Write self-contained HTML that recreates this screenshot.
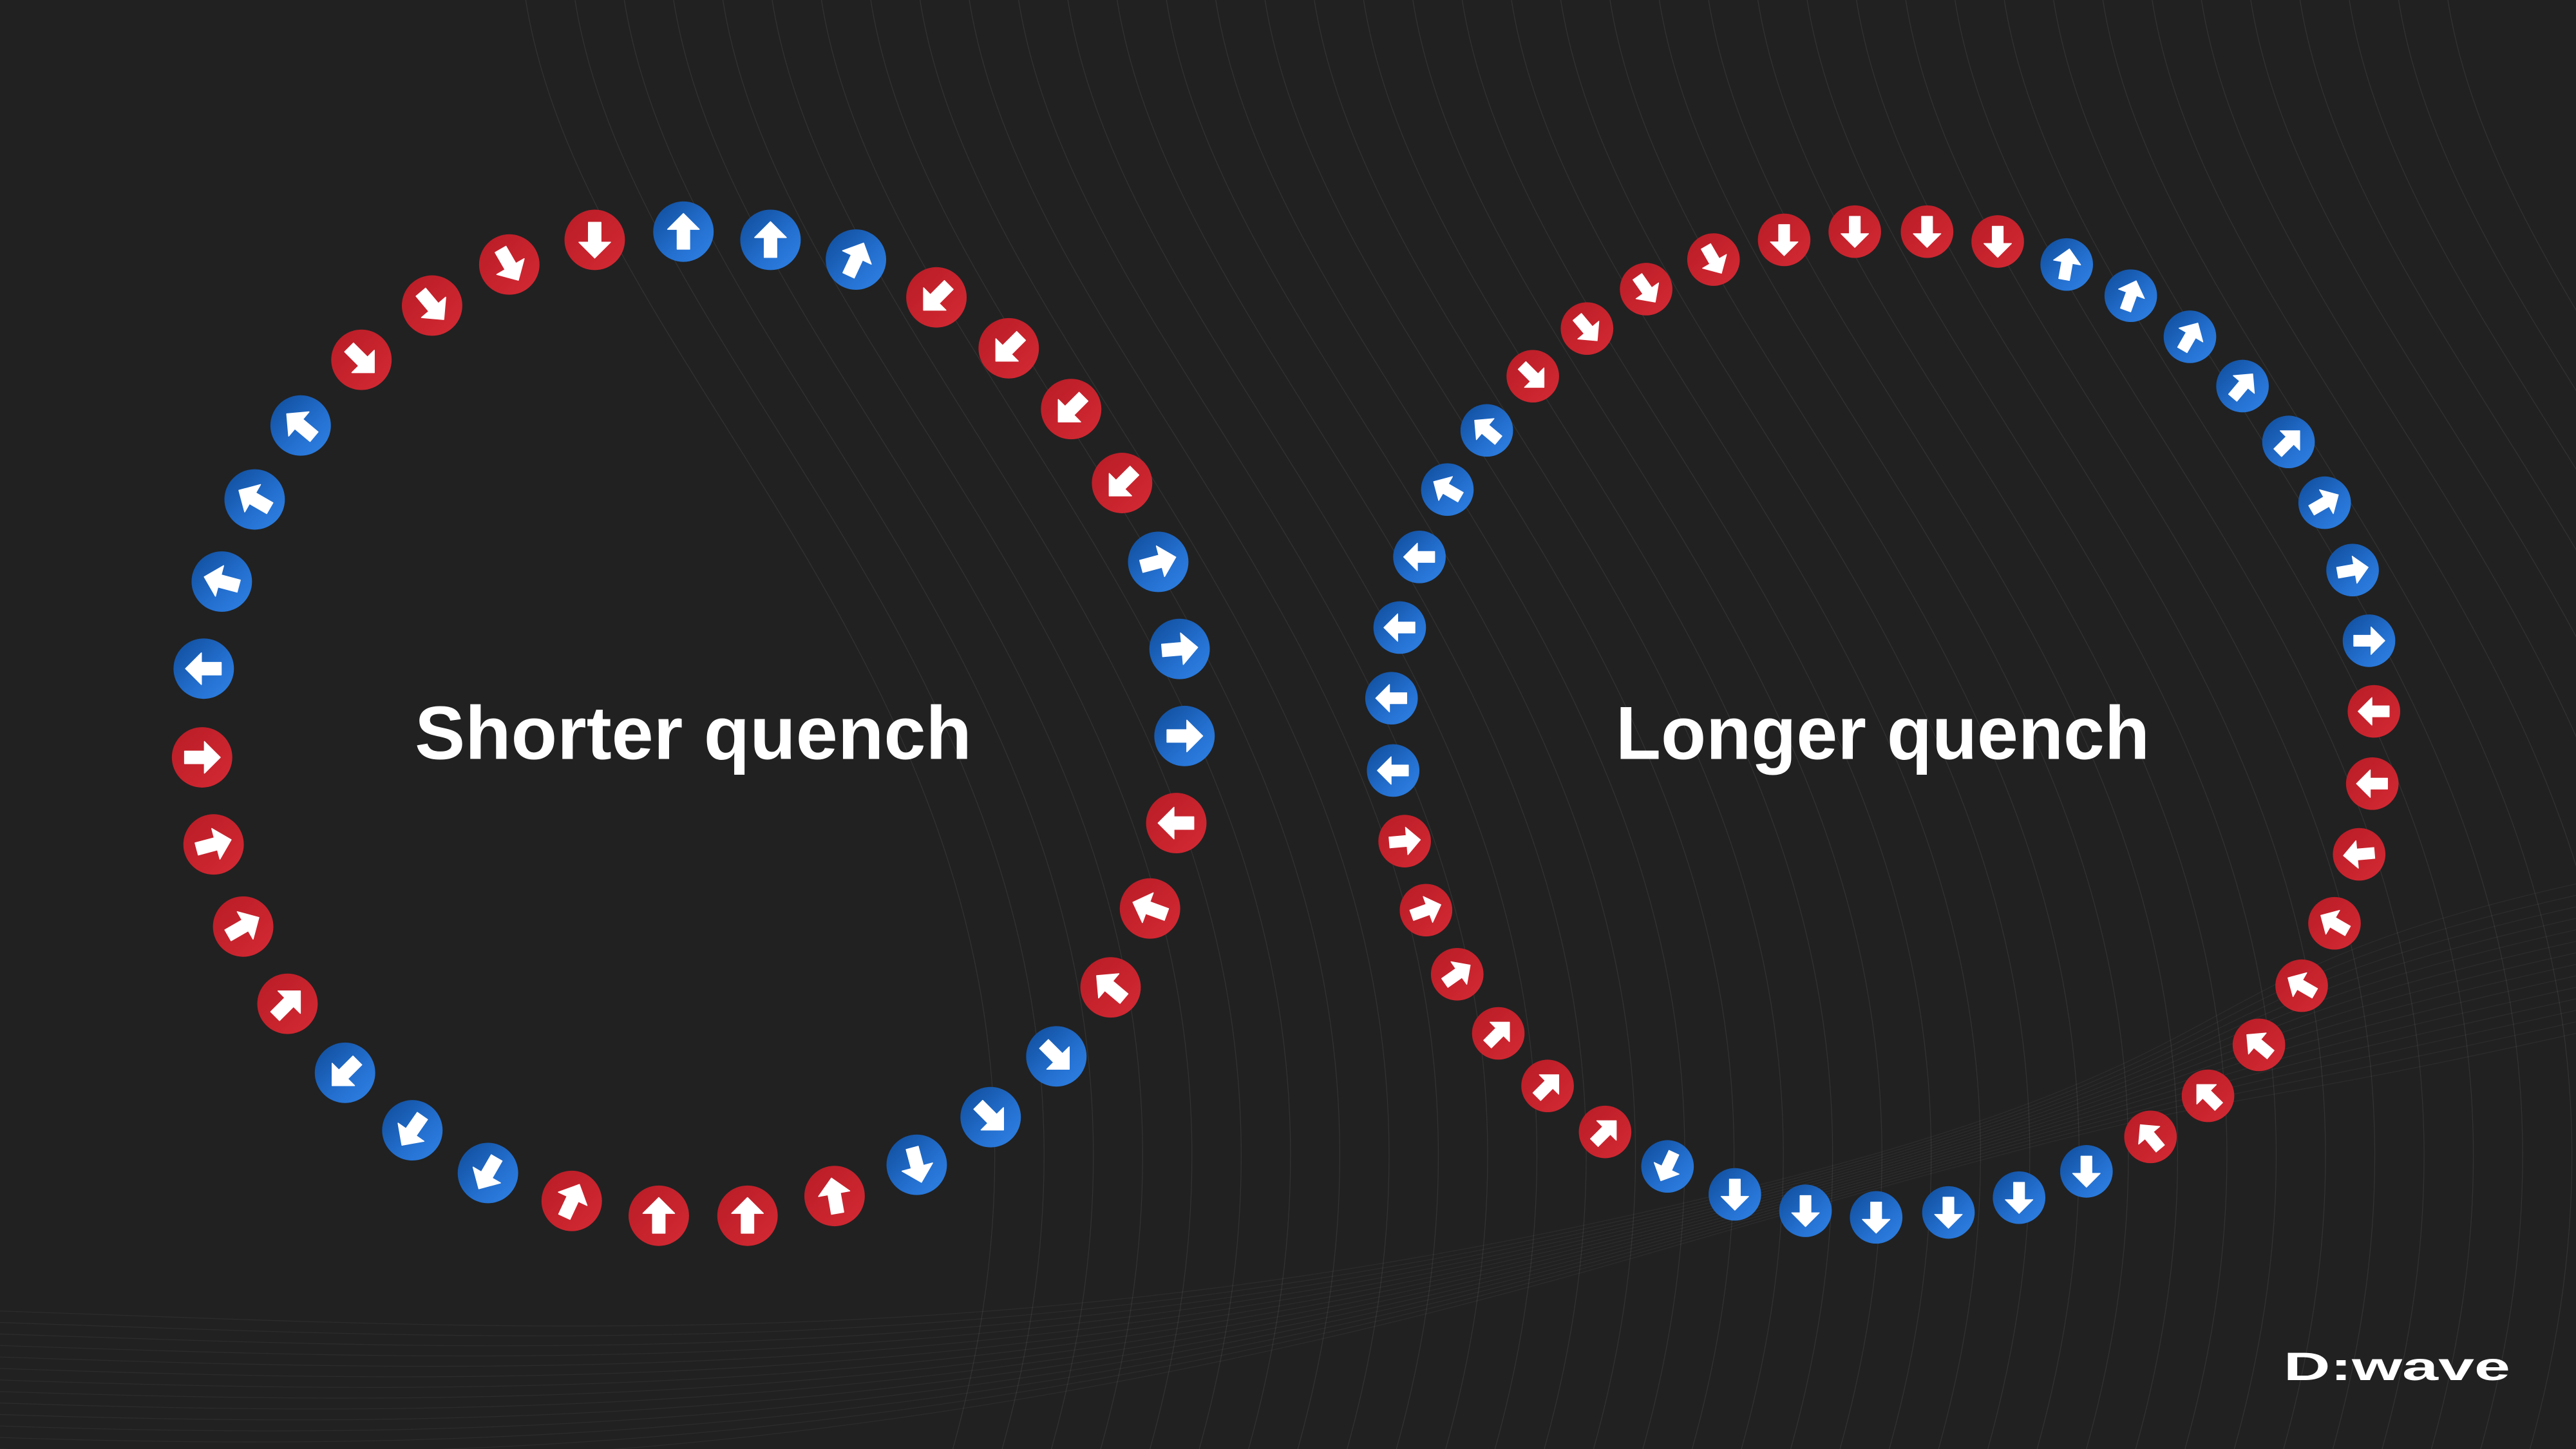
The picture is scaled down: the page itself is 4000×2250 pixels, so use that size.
<!DOCTYPE html>
<html>
<head>
<meta charset="utf-8">
<style>
html,body{margin:0;padding:0;background:#212121;}
svg{display:block;}
</style>
</head>
<body>
<svg id="chart" width="4000" height="2250" viewBox="0 0 1568 882" xmlns="http://www.w3.org/2000/svg">
<defs>
<linearGradient id="gBlue" x1="0" y1="0" x2="1" y2="1">
<stop offset="0" stop-color="#0e4b98"/><stop offset="0.6" stop-color="#2470d0"/><stop offset="1" stop-color="#2f82e6"/>
</linearGradient>
<linearGradient id="gRed" x1="0" y1="0" x2="1" y2="1">
<stop offset="0" stop-color="#b81c26"/><stop offset="1" stop-color="#d42a34"/>
</linearGradient>
</defs>
<rect x="0" y="0" width="1568" height="882" fill="#212121"/>
<g id="bglines"></g>
<g id="ringA"></g>
<g id="ringB"></g>
<text x="422" y="462" text-anchor="middle" textLength="339" lengthAdjust="spacingAndGlyphs" font-family="Liberation Sans, sans-serif" font-weight="bold" font-size="46" fill="#ffffff">Shorter quench</text>
<text x="1146" y="462" text-anchor="middle" textLength="325" lengthAdjust="spacingAndGlyphs" font-family="Liberation Sans, sans-serif" font-weight="bold" font-size="46" fill="#ffffff">Longer quench</text>
<text x="1390" y="840" textLength="138" lengthAdjust="spacingAndGlyphs" font-family="Liberation Sans, sans-serif" font-weight="bold" font-size="24" fill="#ffffff">D:wave</text>
</svg>
<script>
// Shorter quench spins: x, y, color (1 = blue, 0 = red), arrow angle (deg, 0 = up)
const aX=[416,469,521,570,614,652,683,705,718,721,716,700,676,643,603,558,508,455,401,348,297,251,210,175,148,130,123,124,135,155,183,220,263,310,362];
const aY=[141,146,158,181,212,249,294,342,395,448,501,553,601,643,680,709,728,740,740,731,714,688,653,611,564,514,461,407,354,304,259,219,186,161,146];
const aC=[1,1,1,0,0,0,0,1,1,1,0,0,0,1,1,1,0,0,0,0,1,1,1,0,0,0,0,1,1,1,1,0,0,0,0];
const aA=[0,0,25,225,225,225,225,75,85,90,270,290,310,135,135,165,350,0,0,25,210,215,225,45,60,75,90,270,285,300,310,135,140,150,180];
// Longer quench spins
const bX=[1129,1173,1216,1258,1297,1333,1365,1393,1415,1432,1442,1445,1444,1436,1421,1401,1375,1344,1309,1270,1229,1186,1142,1099,1056,1015,977,942,912,887,868,855,848,847,852,864,881,905,933,966,1002,1043,1086];
const bY=[141,141,147,161,180,205,235,269,306,347,390,433,477,520,562,600,636,667,692,713,729,738,741,737,727,710,689,661,629,593,554,512,469,425,382,339,298,262,229,200,176,158,146];
const bC=[0,0,0,1,1,1,1,1,1,1,1,0,0,0,0,0,0,0,0,1,1,1,1,1,1,1,0,0,0,0,0,0,1,1,1,1,1,1,0,0,0,0,0];
const bA=[180,180,180,10,20,30,40,45,60,80,90,270,270,265,300,300,310,315,320,180,180,180,180,180,180,205,45,45,45,55,70,85,270,270,270,270,300,310,135,140,145,150,180];

const NS="http://www.w3.org/2000/svg";
function spin(g,x,y,c,a,r){
  const grp=document.createElementNS(NS,'g');
  
  
  grp.setAttribute('transform','translate('+x+','+y+')');
  const ci=document.createElementNS(NS,'circle');
  ci.setAttribute('r',r);
  ci.setAttribute('fill',c?'url(#gBlue)':'url(#gRed)');
  grp.appendChild(ci);
  const s=r/18;
  const p=document.createElementNS(NS,'path');
  p.setAttribute('d','M-3.7,10.4 L3.7,10.4 L3.7,-1.4 L9.4,-1.4 L0,-10.8 L-9.4,-1.4 L-3.7,-1.4 Z');
  p.setAttribute('fill','#ffffff');
  p.setAttribute('stroke','#ffffff');
  p.setAttribute('stroke-width','0.6');
  p.setAttribute('stroke-linejoin','round');
  p.setAttribute('transform','rotate('+a+') scale('+s+')');
  grp.appendChild(p);
  g.appendChild(grp);
}
const gA=document.getElementById('ringA');
for(let i=0;i<aX.length;i++) spin(gA,aX[i],aY[i],aC[i],aA[i],18.4);
const gB=document.getElementById('ringB');
for(let i=0;i<bX.length;i++) spin(gB,bX[i],bY[i],bC[i],bA[i],16);

// faint decorative background curves
const bg=document.getElementById('bglines');
for(let k=0;k<40;k++){
  const p=document.createElementNS(NS,'path');
  
  
  const x0=320+k*30, y0=0;
  p.setAttribute('d','M'+x0+','+y0+' C'+(x0+40)+',250 '+(x0+380)+',450 '+(x0+260)+',882');
  p.setAttribute('fill','none');
  p.setAttribute('stroke','rgba(255,255,255,0.08)');
  p.setAttribute('stroke-width','0.5');
  bg.appendChild(p);
}
for(let k=0;k<14;k++){
  const p=document.createElementNS(NS,'path');
  
  
  const y=798+k*7;
  p.setAttribute('d','M0,'+y+' C300,'+(y+10)+' 600,'+(y+30-k*3)+' 1000,'+(y-60-k*5)+' S1300,'+(y-200)+' 1568,'+(y-260));
  p.setAttribute('fill','none');
  p.setAttribute('stroke','rgba(255,255,255,0.05)');
  p.setAttribute('stroke-width','0.5');
  bg.appendChild(p);
}
</script>
</body>
</html>
